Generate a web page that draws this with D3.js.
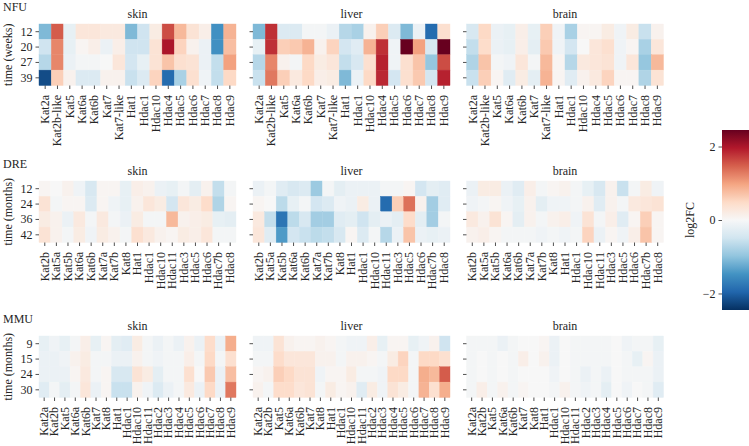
<!DOCTYPE html>
<html><head><meta charset="utf-8">
<script src="https://cdn.jsdelivr.net/npm/d3@7"></script>
<style>
body{margin:0;background:#fff;}
svg{display:block;font-family:"Liberation Serif","DejaVu Serif",serif;}
text{font-family:"Liberation Serif","DejaVu Serif",serif;fill:#262626;}
</style></head><body>
<svg id="c" width="749" height="446"></svg>
<script>
// ---------- DATA ----------
const tissues = ["skin", "liver", "brain"];

const nfuGenes = ["Kat2a","Kat2b-like","Kat5","Kat6a","Kat6b","Kat7","Kat7-like","Hat1","Hdac1","Hdac10","Hdac4","Hdac5","Hdac6","Hdac7","Hdac8","Hdac9"];
const nfuTimes = ["12","20","27","39"];
const nfuSkin = [
  [-1.1, 1.5,-0.2, 0.3, 0.3, 0.25, 0.25,-1.1,-0.5, 0.2, 1.6, 0.8, 0.35, 0.15,-1.5, 0.85],
  [-0.5, 1.2,-0.2, 0.05, 0.15,-0.15, 0.15,-0.5,-0.5, 0.35, 2.0, 0.55, 0.1,-0.15,-1.5, 0.75],
  [-0.7, 1.2,-0.15,-0.05,-0.05, 0.0, 0.3,-0.45,-0.2, 0.35, 0.7, 0.4, 0.35,-0.15,-0.6, 1.0],
  [-2.2, 0.6, 0.1,-0.35,-0.35, 0.1, 0.1,-0.55,-0.35, 0.55,-1.9,-0.8, 0.4,-0.1,-0.6, 0.5]
];
const nfuLiver = [
  [-1.1, 1.8,-0.35,-0.35,-0.05,-0.05,-0.15,-0.7,-0.8, 0.1, 0.6,-0.35,-1.1,-0.15,-1.9, 0.4],
  [-0.2, 1.8, 0.6, 0.65, 0.85, 0.1, 0.55,-0.45,-0.3, 0.85, 1.8,-0.1, 2.45, 1.0,-0.4, 2.45],
  [-0.7, 1.2, 0.1,-0.05, 0.5, 0.2, 0.3,-0.6,-0.4, 0.4, 1.9,-0.1, 0.4, 0.7,-0.95, 1.6],
  [-0.55, 1.3, 0.6, 0.25, 0.5, 0.15, 0.2,-1.1,-0.15, 0.5, 1.85,-0.45, 0.4, 0.65,-0.45, 1.9]
];
const nfuBrain = [
  [-0.4, 0.5,-0.15,-0.2, 0.15,-0.2, 0.6,-0.1,-0.8, 0.05, 0.05, 0.2,-0.1, 0.2,-0.55, 0.1],
  [-0.6, 0.45,-0.15,-0.2, 0.15,-0.25, 0.65,-0.1,-0.45, 0.0, 0.3, 0.4,-0.1, 0.05,-0.8, 0.3],
  [-0.75, 0.7,-0.05,-0.1, 0.3,-0.05, 0.8, 0.05,-0.7, 0.25, 0.3, 0.35,-0.1, 0.3,-0.95, 0.8],
  [-0.55, 0.6, 0.05,-0.3, 0.2,-0.25, 0.85, 0.05,-0.3, 0.1, 0.25, 0.55, 0.05, 0.05,-0.75, 0.35]
];

const dreGenes = ["Kat2b","Kat5a","Kat5b","Kat6a","Kat6b","Kat7a","Kat7b","Kat8","Hat1","Hdac1","Hdac10","Hdac11","Hdac3","Hdac5","Hdac6","Hdac7b","Hdac8"];
const dreTimes = ["12","24","36","42"];
const dreSkin = [
  [0.05, 0.0, 0.1,-0.1,-0.4, 0.05, 0.05,-0.2, 0.15, 0.1,-0.15,-0.2,-0.05,-0.25, 0.1,-0.6,-0.05],
  [0.35,-0.05, 0.05, 0.05,-0.35, 0.05,-0.1,-0.2, 0.1, 0.3, 0.2,-0.45, 0.3, 0.2, 0.45,-0.75, 0.05],
  [0.2, 0.1,-0.15, 0.25,-0.05, 0.25,-0.05,-0.15, 0.2,-0.05,-0.05, 0.8, 0.1, 0.15, 0.2,-0.2,-0.25],
  [0.35, 0.1,-0.05, 0.2,-0.1, 0.2, 0.1,-0.05, 0.4, 0.25, 0.1, 0.05, 0.2, 0.15, 0.3,-0.05,-0.05]
];
const dreLiver = [
  [-0.15,-0.05,-0.3,-0.4,-0.35,-0.9,-0.05,-0.25,-0.15,-0.15,-0.15,-0.05,-0.05, 0.05,-0.45,-0.25,-0.3],
  [0.05, 0.0,-0.65,-0.2,-0.05,-0.45,-0.35,-0.1,-0.15, 0.2,-0.15,-1.9, 0.6, 1.35, 0.1,-0.85,-0.3],
  [0.25,-0.6,-1.8,-0.65,-0.4,-0.85,-0.85,-0.3,-0.25,-0.5,-0.25,-0.15,-0.25, 0.45,-0.25,-0.85,-0.05],
  [0.3,-0.3,-1.4,-0.45,-0.55,-0.65,-0.6,-0.4, 0.05,-0.35,-0.05,-0.7,-0.15, 0.7,-0.15,-0.2,-0.15]
];
const dreBrain = [
  [-0.15, 0.2, 0.2,-0.15,-0.3, 0.15,-0.05, 0.05, 0.1,-0.05,-0.2,-0.4, 0.1,-0.55,-0.05, 0.2,-0.1],
  [-0.1,-0.05, 0.05,-0.1,-0.2, 0.1,-0.25,-0.1,-0.1,-0.05, 0.1,-0.3, 0.1,-0.05, 0.25, 0.3, 0.35],
  [0.25, 0.1, 0.35, 0.05,-0.25, 0.1,-0.05, 0.1, 0.15,-0.1, 0.35,-0.05, 0.15,-0.3, 0.05, 0.6, 0.05],
  [0.1, 0.15, 0.05,-0.05,-0.05,-0.05,-0.1,-0.05,-0.1,-0.05, 0.55,-0.15, 0.05,-0.1, 0.15, 0.7, 0.05]
];

const mmuGenes = ["Kat2a","Kat2b","Kat5","Kat6a","Kat6b","Kat7","Kat8","Hat1","Hdac1","Hdac10","Hdac11","Hdac2","Hdac3","Hdac4","Hdac5","Hdac6","Hdac7","Hdac8","Hdac9"];
const mmuTimes = ["9","15","24","30"];
const mmuSkin = [
  [-0.2,-0.1,-0.2,-0.05, 0.15,-0.2, 0.05,-0.25,-0.3, 0.2,-0.05,-0.15,-0.05,-0.15, 0.1,-0.15, 0.45,-0.15, 0.9],
  [-0.15,-0.15,-0.1, 0.1, 0.2,-0.05,-0.05,-0.15,-0.15, 0.1,-0.05,-0.1,-0.05,-0.05, 0.15,-0.05, 0.5,-0.05, 0.4],
  [-0.15,-0.15,-0.15, 0.05, 0.25,-0.05, 0.05,-0.4,-0.4, 0.35, 0.2,-0.25,-0.05,-0.05, 0.4, 0.0, 0.65,-0.15, 0.75],
  [-0.3,-0.05,-0.25,-0.05, 0.3,-0.15, 0.05,-0.55,-0.55, 0.1,-0.1,-0.35,-0.15,-0.05, 0.25,-0.15, 0.5,-0.15, 1.3]
];
const mmuLiver = [
  [-0.1,-0.1, 0.35, 0.1, 0.05, 0.05, 0.1, 0.05,-0.05,-0.1,-0.1, 0.15,-0.2, 0.05, 0.05,-0.2,-0.1, 0.1,-0.5],
  [-0.05,-0.05, 0.45, 0.3, 0.3, 0.3, 0.1, 0.1,-0.05, 0.1, 0.1, 0.05,-0.05, 0.2, 0.55,-0.05, 0.5, 0.5, 0.4],
  [0.05, 0.1, 0.6, 0.5, 0.35, 0.35,-0.1, 0.05, 0.05, 0.2,-0.05,-0.05,-0.1, 0.5, 0.5,-0.05, 0.9, 0.8, 1.5],
  [0.1,-0.05, 0.45, 0.45, 0.3, 0.35,-0.05, 0.2, 0.05, 0.1,-0.3, 0.2,-0.1, 0.35, 0.2,-0.05, 0.85, 0.4, 0.9]
];
const mmuBrain = [
  [-0.05,-0.05,-0.05,-0.15,-0.05, 0.0, 0.0, 0.05,-0.15, 0.0,-0.05,-0.05,-0.05,-0.05, 0.0,-0.1,-0.05,-0.05,-0.2],
  [-0.05, 0.0,-0.05, 0.0,-0.05, 0.15, 0.0, 0.1,-0.15, 0.0,-0.05,-0.05,-0.05,-0.05, 0.0,-0.05,-0.2, 0.05,-0.15],
  [-0.05, 0.0,-0.05, 0.0,-0.05, 0.0, 0.0, 0.0,-0.1, 0.0,-0.05,-0.15,-0.05,-0.15, 0.0,-0.05,-0.05,-0.05,-0.15],
  [-0.05, 0.15,-0.05, 0.1,-0.05, 0.05, 0.0, 0.0,-0.05, 0.1,-0.05,-0.1,-0.05,-0.25, 0.0,-0.1, 0.0,-0.05,-0.3]
];

const speciesNames = ["NFU", "DRE", "MMU"];
const yLabels = ["time (weeks)", "time (months)", "time (months)"];
const cbTicks = [-2, 0, 2];
const cbLabel = "log2FC";
const vmax = 2.45;
const rdbuColors = ["#053061","#2166ac","#4393c3","#92c5de","#d1e5f0","#f7f7f7","#fddbc7","#f4a582","#d6604d","#b2182b","#67001f"];

const species = [
  {name: speciesNames[0], genes: nfuGenes, times: nfuTimes, ylab: yLabels[0], data: [nfuSkin, nfuLiver, nfuBrain]},
  {name: speciesNames[1], genes: dreGenes, times: dreTimes, ylab: yLabels[1], data: [dreSkin, dreLiver, dreBrain]},
  {name: speciesNames[2], genes: mmuGenes, times: mmuTimes, ylab: yLabels[2], data: [mmuSkin, mmuLiver, mmuBrain]}
];

// ---------- LAYOUT ----------
const FONT = "Liberation Serif, DejaVu Serif, serif";
const svg = d3.select("#c");
const panelX = [39, 253, 466.5];
const panelW = 197;
const rowTop = [24, 181, 336];
const panelH = 61.5;

const color = d3.scaleLinear()
  .domain(d3.range(11).map(i => -vmax + i * (2 * vmax / 10)))
  .range(rdbuColors)
  .interpolate(d3.interpolateRgb)
  .clamp(true);

function styleAxis(a) {
  a.attr("font-family", FONT).attr("font-size", 12);
  a.select(".domain").remove();
  a.selectAll(".tick line").attr("stroke", "#262626").attr("stroke-width", 0.8);
  a.selectAll(".tick text").attr("font-size", 12).attr("font-family", FONT).attr("fill", "#262626");
}

species.forEach((sp, si) => {
  const top = rowTop[si];
  svg.append("text").attr("x", 3).attr("y", top - 13).attr("font-size", 12).text(sp.name);
  tissues.forEach((t, ti) => {
    const x0 = panelX[ti];
    const x = d3.scaleBand().domain(sp.genes).range([x0, x0 + panelW]);
    const y = d3.scaleBand().domain(sp.times).range([top, top + panelH]);
    const g = svg.append("g");
    const rows = sp.data[ti];
    rows.forEach((row, ri) => {
      g.selectAll(null).data(row).join("rect")
        .attr("x", (d, i) => x(sp.genes[i]))
        .attr("y", y(sp.times[ri]))
        .attr("width", x.bandwidth())
        .attr("height", y.bandwidth())
        .attr("fill", d => color(d))
        .attr("stroke", d => color(d))
        .attr("stroke-width", 0.4);
    });
    // title
    svg.append("text").attr("x", x0 + panelW / 2).attr("y", top - 6)
      .attr("text-anchor", "middle").attr("font-size", 12).text(t);
    // x axis
    const xa = svg.append("g").attr("transform", `translate(0,${top + panelH})`)
      .call(d3.axisBottom(x).tickSize(3.5).tickPadding(3));
    styleAxis(xa);
    xa.selectAll(".tick text")
      .attr("transform", "rotate(-90)")
      .attr("text-anchor", "end")
      .attr("x", -9.5).attr("y", 0).attr("dy", "0.32em");
    // y axis
    const ya = svg.append("g").attr("transform", `translate(${x0},0)`)
      .call(d3.axisLeft(y).tickSize(3.5).tickPadding(3));
    styleAxis(ya);
    if (ti > 0) ya.selectAll(".tick text").remove();
    if (ti === 0) {
      svg.append("text")
        .attr("transform", `translate(12,${top + panelH / 2}) rotate(-90)`)
        .attr("text-anchor", "middle").attr("font-size", 12).text(sp.ylab);
    }
  });
});

// ---------- COLORBAR ----------
const cbX = 722, cbW = 27, cbTop = 130, cbBot = 310;
const defs = svg.append("defs");
const grad = defs.append("linearGradient").attr("id", "cbg")
  .attr("x1", 0).attr("y1", 1).attr("x2", 0).attr("y2", 0);
d3.range(0, 1.0001, 0.02).forEach(f => {
  grad.append("stop").attr("offset", f).attr("stop-color", color(-vmax + f * 2 * vmax));
});
svg.append("rect").attr("x", cbX).attr("y", cbTop).attr("width", cbW).attr("height", cbBot - cbTop)
  .attr("fill", "url(#cbg)");
const cy = d3.scaleLinear().domain([-vmax, vmax]).range([cbBot, cbTop]);
const ca = svg.append("g").attr("transform", `translate(${cbX},0)`)
  .call(d3.axisLeft(cy).tickValues(cbTicks).tickSize(3.5).tickPadding(3).tickFormat(d => d < 0 ? "\u2212" + Math.abs(d) : String(d)));
styleAxis(ca);
svg.append("text")
  .attr("transform", `translate(694,${(cbTop + cbBot) / 2}) rotate(-90)`)
  .attr("text-anchor", "middle").attr("font-size", 12).text(cbLabel);
</script>
</body></html>
